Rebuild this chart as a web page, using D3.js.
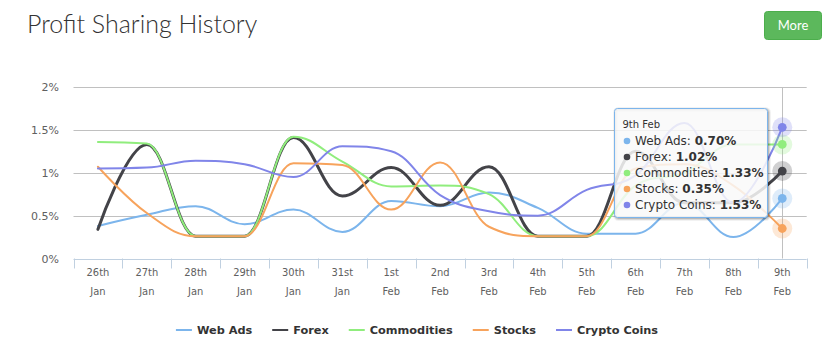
<!DOCTYPE html>
<html><head><meta charset="utf-8">
<script src="https://cdn.jsdelivr.net/npm/d3@7"></script>
<style>body{margin:0;background:#fff;} svg{display:block;}</style>
</head><body>
<svg id="chart" width="839" height="356"></svg>
<script>
const title = "Profit Sharing History";
const categories = ["26th Jan","27th Jan","28th Jan","29th Jan","30th Jan","31st Jan","1st Feb","2nd Feb","3rd Feb","4th Feb","5th Feb","6th Feb","7th Feb","8th Feb","9th Feb"];
const webAds      = [0.38,0.51,0.61,0.40,0.57,0.31,0.67,0.61,0.77,0.59,0.29,0.29,0.65,0.25,0.70];
const forex       = [0.34,1.33,0.26,0.26,1.41,0.73,1.06,0.62,1.07,0.26,0.26,1.25,0.65,0.65,1.02];
const commodities = [1.36,1.34,0.26,0.26,1.42,1.13,0.84,0.85,0.75,0.26,0.26,0.85,1.00,1.33,1.33];
const stocks      = [1.07,0.53,0.26,0.26,1.11,1.09,0.57,1.12,0.37,0.26,0.26,1.05,1.10,0.85,0.35];
const cryptoCoins = [1.05,1.06,1.14,1.10,0.95,1.31,1.25,0.74,0.55,0.50,0.80,0.97,1.58,0.65,1.53];
const yTicks = [0,0.5,1,1.5,2];
const seriesNames = ["Web Ads","Forex","Commodities","Stocks","Crypto Coins"];
const seriesColors = ["#7cb5ec","#434348","#90ed7d","#f7a35c","#8085e9"];
const seriesData = [webAds, forex, commodities, stocks, cryptoCoins];
const hoverIndex = 14; // tooltip shown for last category

const svg = d3.select("#chart");
const plot = {left:73.5, right:806.7, top:87, bottom:258.5};

const x = d3.scaleBand().domain(categories).range([plot.left, plot.right]);
const y = d3.scaleLinear().domain([0,2]).range([plot.bottom, plot.top]);
const cx = c => x(c) + x.bandwidth()/2;

// Title
svg.append("text").attr("x",27).attr("y",33)
  .attr("font-family","Lato, 'Open Sans', sans-serif").attr("font-size",25).attr("font-weight",300)
  .attr("fill","#333").text(title);

// More button
const btn = svg.append("g");
btn.append("rect").attr("x",764.5).attr("y",11.5).attr("width",57).attr("height",28).attr("rx",3)
  .attr("fill","#5cb85c").attr("stroke","#4cae4c");
btn.append("text").attr("x",793).attr("y",30).attr("text-anchor","middle")
  .attr("font-family","Lato, 'Open Sans', sans-serif").attr("font-size",13).attr("fill","#fff").text("More");

// Grid lines
svg.append("g").selectAll("line").data(yTicks.filter(d=>d>0)).join("line")
  .attr("x1",plot.left).attr("x2",plot.right)
  .attr("y1",d=>Math.round(y(d))+0.5).attr("y2",d=>Math.round(y(d))+0.5)
  .attr("stroke","#C0C0C0").attr("stroke-width",1);

// Y labels
svg.append("g").selectAll("text").data(yTicks).join("text")
  .attr("x",59).attr("y",d=>y(d)+4).attr("text-anchor","end")
  .attr("font-family","'DejaVu Sans', Verdana, sans-serif").attr("font-size",11)
  .attr("fill","#606060").text(d=>d+"%");

// X axis
const xa = svg.append("g");
xa.append("line").attr("x1",plot.left).attr("x2",plot.right)
  .attr("y1",Math.round(plot.bottom)+0.5).attr("y2",Math.round(plot.bottom)+0.5)
  .attr("stroke","#C0D0E0");
const tickPos = categories.map(c=>x(c)).concat([plot.right]);
xa.selectAll("line.tick").data(tickPos).join("line").attr("class","tick")
  .attr("x1",d=>Math.round(d)+0.5).attr("x2",d=>Math.round(d)+0.5)
  .attr("y1",plot.bottom).attr("y2",plot.bottom+10).attr("stroke","#C0D0E0");
const xl = xa.selectAll("text").data(categories).join("text")
  .attr("text-anchor","middle")
  .attr("font-family","'DejaVu Sans Condensed', 'DejaVu Sans', sans-serif").attr("font-stretch","condensed")
  .attr("font-size",11).attr("fill","#606060");
xl.append("tspan").attr("x",d=>cx(d)).attr("y",276).text(d=>d.split(" ")[0]);
xl.append("tspan").attr("x",d=>cx(d)).attr("y",294.5).text(d=>d.split(" ")[1]);

// Highcharts-like spline
function splinePath(pts){
  const sm=1.5, den=sm+1, L=[], R=[];
  for(let i=1;i<pts.length-1;i++){
    const [px,py]=pts[i],[lx,ly]=pts[i-1],[nx,ny]=pts[i+1];
    let lcx=(sm*px+lx)/den, lcy=(sm*py+ly)/den, rcx=(sm*px+nx)/den, rcy=(sm*py+ny)/den, corr=0;
    if(rcx!==lcx) corr=((rcy-lcy)*(rcx-px))/(rcx-lcx)+py-rcy;
    lcy+=corr; rcy+=corr;
    if(lcy>ly&&lcy>py){lcy=Math.max(ly,py);rcy=2*py-lcy;}
    else if(lcy<ly&&lcy<py){lcy=Math.min(ly,py);rcy=2*py-lcy;}
    if(rcy>ny&&rcy>py){rcy=Math.max(ny,py);lcy=2*py-rcy;}
    else if(rcy<ny&&rcy<py){rcy=Math.min(ny,py);lcy=2*py-rcy;}
    L[i]=[lcx,lcy]; R[i]=[rcx,rcy];
  }
  const p=d3.path();
  p.moveTo(pts[0][0],pts[0][1]);
  for(let i=1;i<pts.length;i++){
    const c1=R[i-1]||pts[i-1], c2=L[i]||pts[i];
    p.bezierCurveTo(c1[0],c1[1],c2[0],c2[1],pts[i][0],pts[i][1]);
  }
  return p.toString();
}

// Crosshair
const hx = cx(categories[hoverIndex]);
svg.append("line").attr("x1",Math.round(hx)+0.5).attr("x2",Math.round(hx)+0.5)
  .attr("y1",plot.top).attr("y2",plot.bottom).attr("stroke","#C0C0C0");

// Series lines
const lines = svg.append("g");
seriesData.forEach((data,si)=>{
  const pts = data.map((v,i)=>[cx(categories[i]), y(v)]);
  lines.append("path").attr("d",splinePath(pts)).attr("fill","none")
    .attr("stroke",seriesColors[si]).attr("stroke-width", si===1?3:2)
    .attr("stroke-linejoin","round").attr("stroke-linecap","round");
});

// Halos & markers
const mk = svg.append("g");
seriesData.forEach((data,si)=>{
  mk.append("circle").attr("cx",hx).attr("cy",y(data[hoverIndex])).attr("r",10)
    .attr("fill",seriesColors[si]).attr("fill-opacity",0.25);
});
seriesData.forEach((data,si)=>{
  mk.append("circle").attr("cx",hx).attr("cy",y(data[hoverIndex])).attr("r",4.4)
    .attr("fill",seriesColors[si]);
});

// Tooltip
const tt = svg.append("g").attr("transform",`translate(${Math.round(hx-168)+0.5},108.5)`);
[5,3,1].forEach((w,i)=>{
  tt.append("rect").attr("x",1).attr("y",1).attr("width",153).attr("height",109).attr("rx",3)
    .attr("fill","none").attr("stroke","#000").attr("stroke-opacity",0.05*(i+1)).attr("stroke-width",w);
});
tt.append("rect").attr("width",153).attr("height",109).attr("rx",3)
  .attr("fill","rgba(249,249,249,0.85)").attr("stroke",seriesColors[0]).attr("stroke-width",1);
tt.append("text").attr("x",8).attr("y",19.5).attr("font-family","'DejaVu Sans', Verdana, sans-serif")
  .attr("font-size",10).attr("fill","#333").text(categories[hoverIndex]);
seriesData.forEach((data,si)=>{
  const ty = 36.5 + si*16;
  tt.append("circle").attr("cx",12.5).attr("cy",ty-4).attr("r",3.3).attr("fill",seriesColors[si]);
  const t = tt.append("text").attr("x",20.5).attr("y",ty)
    .attr("font-family","'DejaVu Sans', Verdana, sans-serif").attr("font-size",12).attr("fill","#333");
  t.append("tspan").text(seriesNames[si]+": ");
  t.append("tspan").attr("font-weight","bold").text(data[hoverIndex].toFixed(2)+"%");
});

// Legend
const lg = svg.append("g");
const items = [];
seriesNames.forEach((n,si)=>{
  const g = lg.append("g");
  g.append("line").attr("x1",0).attr("x2",16).attr("y1",330).attr("y2",330)
    .attr("stroke",seriesColors[si]).attr("stroke-width",2);
  const t = g.append("text").attr("x",21).attr("y",334.2)
    .attr("font-family","'DejaVu Sans', Verdana, sans-serif").attr("font-size",11.3)
    .attr("font-weight","bold").attr("fill","#333").text(n);
  const w = 21 + t.node().getComputedTextLength();
  items.push({g,w});
});
const total = d3.sum(items,d=>d.w) + 20*(items.length-1);
let start = 417 - total/2;
items.forEach(it=>{ it.g.attr("transform",`translate(${start},0)`); start += it.w + 20; });
</script>
</body></html>
